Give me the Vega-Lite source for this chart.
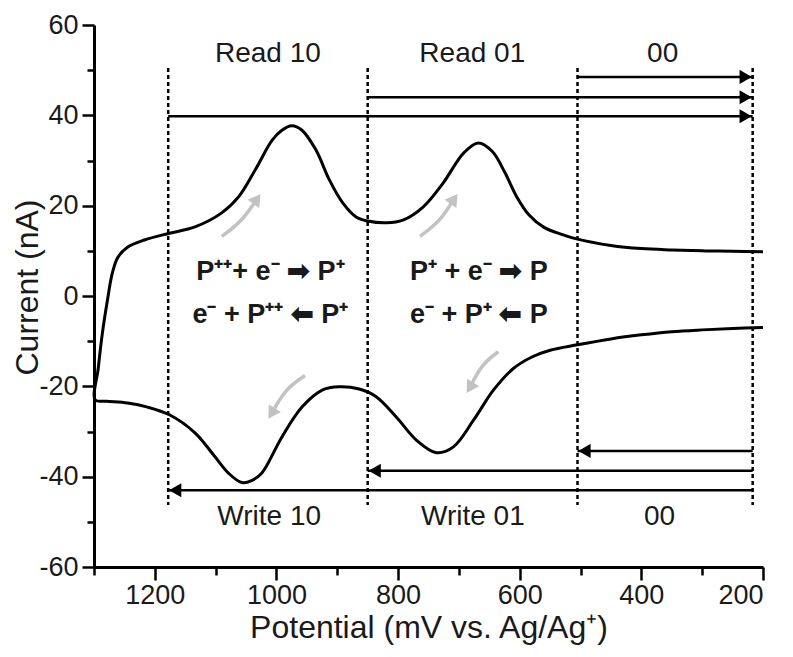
{
  "$schema": "https://vega.github.io/schema/vega-lite/v6.json",
  "width": 669,
  "height": 542,
  "autosize": {"type": "none"},
  "padding": {"left": 94, "top": 25, "right": 30, "bottom": 90},
  "background": "white",
  "config": {"view": {"stroke": null}, "font": "Liberation Sans"},
  "datasets": {
    "curve": [
      {"seq": 1, "E": 200, "I": 9.8}, {"seq": 2, "E": 250, "I": 9.9}, {"seq": 3, "E": 300, "I": 10.0},
      {"seq": 4, "E": 350, "I": 10.2}, {"seq": 5, "E": 400, "I": 10.5}, {"seq": 6, "E": 450, "I": 11.2},
      {"seq": 7, "E": 505, "I": 12.6}, {"seq": 8, "E": 530, "I": 13.6}, {"seq": 9, "E": 560, "I": 15.2},
      {"seq": 10, "E": 585, "I": 18}, {"seq": 11, "E": 605, "I": 22}, {"seq": 12, "E": 625, "I": 27.5},
      {"seq": 13, "E": 645, "I": 32}, {"seq": 14, "E": 668, "I": 33.9}, {"seq": 15, "E": 692, "I": 31.7},
      {"seq": 16, "E": 726, "I": 25}, {"seq": 17, "E": 759, "I": 19.7}, {"seq": 18, "E": 792, "I": 16.8},
      {"seq": 19, "E": 819, "I": 16.2}, {"seq": 20, "E": 850, "I": 16.6}, {"seq": 21, "E": 869, "I": 17.5},
      {"seq": 22, "E": 891, "I": 20.6}, {"seq": 23, "E": 913, "I": 25.7}, {"seq": 24, "E": 935, "I": 32.3},
      {"seq": 25, "E": 958, "I": 36.7}, {"seq": 26, "E": 975, "I": 37.7}, {"seq": 27, "E": 991, "I": 36.7},
      {"seq": 28, "E": 1007, "I": 34.5}, {"seq": 29, "E": 1035, "I": 27.9}, {"seq": 30, "E": 1062, "I": 22},
      {"seq": 31, "E": 1090, "I": 18.4}, {"seq": 32, "E": 1134, "I": 15.3}, {"seq": 33, "E": 1176, "I": 13.9},
      {"seq": 34, "E": 1217, "I": 12.4}, {"seq": 35, "E": 1245, "I": 10.8}, {"seq": 36, "E": 1261, "I": 8.5},
      {"seq": 37, "E": 1270, "I": 5}, {"seq": 38, "E": 1278, "I": -1}, {"seq": 39, "E": 1286, "I": -8},
      {"seq": 40, "E": 1293, "I": -16}, {"seq": 41, "E": 1298, "I": -23}, {"seq": 42, "E": 1280, "I": -23.3},
      {"seq": 43, "E": 1245, "I": -23.7}, {"seq": 44, "E": 1212, "I": -24.6}, {"seq": 45, "E": 1176, "I": -26.3},
      {"seq": 46, "E": 1134, "I": -30.3}, {"seq": 47, "E": 1101, "I": -35.6}, {"seq": 48, "E": 1079, "I": -39.2},
      {"seq": 49, "E": 1057, "I": -41.3}, {"seq": 50, "E": 1040, "I": -40.8}, {"seq": 51, "E": 1024, "I": -39.2},
      {"seq": 52, "E": 991, "I": -31.2}, {"seq": 53, "E": 958, "I": -24.6}, {"seq": 54, "E": 924, "I": -20.8},
      {"seq": 55, "E": 897, "I": -20.1}, {"seq": 56, "E": 864, "I": -20.6}, {"seq": 57, "E": 836, "I": -22.3},
      {"seq": 58, "E": 803, "I": -26.8}, {"seq": 59, "E": 770, "I": -31.9}, {"seq": 60, "E": 737, "I": -34.7},
      {"seq": 61, "E": 709, "I": -33.4}, {"seq": 62, "E": 676, "I": -27.5}, {"seq": 63, "E": 643, "I": -20.8},
      {"seq": 64, "E": 610, "I": -16}, {"seq": 65, "E": 580, "I": -13.5}, {"seq": 66, "E": 550, "I": -12},
      {"seq": 67, "E": 505, "I": -10.8}, {"seq": 68, "E": 450, "I": -9.5}, {"seq": 69, "E": 400, "I": -8.6},
      {"seq": 70, "E": 350, "I": -7.9}, {"seq": 71, "E": 300, "I": -7.5}, {"seq": 72, "E": 250, "I": -7.2},
      {"seq": 73, "E": 200, "I": -7}
    ],
    "dividers": [{"E": 1178}, {"E": 850}, {"E": 505}, {"E": 217}],
    "readArrows": [
      {"a": 505, "b": 217, "I": 48.5},
      {"a": 850, "b": 217, "I": 44},
      {"a": 1178, "b": 217, "I": 39.8}
    ],
    "writeArrows": [
      {"a": 217, "b": 505, "I": -34.3},
      {"a": 217, "b": 850, "I": -38.7},
      {"a": 217, "b": 1178, "I": -43}
    ],
    "regionLabels": [
      {"text": "Read 10", "E": 1014, "I": 53.6},
      {"text": "Read 01", "E": 678, "I": 53.6},
      {"text": "00", "E": 365, "I": 53.6},
      {"text": "Write 10", "E": 1012, "I": -49},
      {"text": "Write 01", "E": 677, "I": -49},
      {"text": "00", "E": 370, "I": -49}
    ],
    "equations": [
      {"text": "P⁺⁺+ e⁻ ➡ P⁺", "E": 1010, "I": 5.3},
      {"text": "e⁻ + P⁺⁺ ⬅ P⁺", "E": 1010, "I": -4.2},
      {"text": "P⁺ + e⁻ ➡ P", "E": 667, "I": 5.3},
      {"text": "e⁻ + P⁺ ⬅ P", "E": 667, "I": -4.2}
    ],
    "grayUp": [
      {"id": "A", "E": 1090, "I": 13.2}, {"id": "A", "E": 1057, "I": 16.5}, {"id": "A", "E": 1032, "I": 21.5},
      {"id": "B", "E": 764, "I": 13.2}, {"id": "B", "E": 731, "I": 16.5}, {"id": "B", "E": 708, "I": 21.5}
    ],
    "grayDown": [
      {"id": "C", "E": 953, "I": -17.6}, {"id": "C", "E": 985, "I": -20.5}, {"id": "C", "E": 1008, "I": -26},
      {"id": "D", "E": 635, "I": -12.3}, {"id": "D", "E": 663, "I": -15.2}, {"id": "D", "E": 682, "I": -20.3}
    ],
    "grayUpHeads": [{"E": 1032, "I": 21.5}, {"E": 708, "I": 21.5}],
    "grayDownHeads": [{"E": 1008, "I": -26}, {"E": 682, "I": -20.3}]
  },
  "layer": [
    {
      "data": {"name": "curve"},
      "mark": {"type": "point", "opacity": 0},
      "encoding": {
        "x": {"field": "E", "type": "quantitative",
              "scale": {"domain": [200, 1300], "reverse": true, "nice": false, "zero": false},
              "axis": {"orient": "bottom", "values": [1300, 1100, 900, 700, 500, 300], "labels": false, "domain": false, "grid": false, "title": null, "tickSize": 8, "tickWidth": 2.5, "tickColor": "black"}},
        "y": {"field": "I", "type": "quantitative",
              "scale": {"domain": [-60, 60], "nice": false, "zero": false},
              "axis": {"orient": "left", "values": [-50, -30, -10, 10, 30, 50], "labels": false, "domain": false, "grid": false, "title": null, "tickSize": 7, "tickWidth": 2.5, "tickColor": "black"}}
      }
    },
    {
      "data": {"name": "curve"},
      "mark": {"type": "line", "color": "black", "strokeWidth": 3, "interpolate": "catmull-rom", "strokeJoin": "round"},
      "encoding": {
        "x": {"field": "E", "type": "quantitative",
              "scale": {"domain": [200, 1300], "reverse": true, "nice": false, "zero": false},
              "axis": {"orient": "bottom", "values": [1200, 1000, 800, 600, 400, 200], "grid": false, "title": "Potential (mV vs. Ag/Ag⁺)",
                       "labelExpr": "datum.value + ''",
                       "domainColor": "black", "domainWidth": 3, "tickColor": "black", "tickWidth": 2.5, "tickSize": 13,
                       "labelFontSize": 27, "labelColor": "#1a1a1a", "labelPadding": 2, "labelFont": "Liberation Sans",
                       "titleFontSize": 32, "titleFontWeight": "normal", "titleColor": "#1a1a1a", "titlePadding": 4, "titleFont": "Liberation Sans"}},
        "y": {"field": "I", "type": "quantitative",
              "scale": {"domain": [-60, 60], "nice": false, "zero": false},
              "axis": {"orient": "left", "values": [-60, -40, -20, 0, 20, 40, 60], "grid": false, "title": "Current (nA)",
                       "labelExpr": "datum.value + ''",
                       "domainColor": "black", "domainWidth": 3, "tickColor": "black", "tickWidth": 2.5, "tickSize": 12,
                       "labelFontSize": 27, "labelColor": "#1a1a1a", "labelPadding": 4, "labelFont": "Liberation Sans",
                       "titleFontSize": 32, "titleFontWeight": "normal", "titleColor": "#1a1a1a", "titleX": -50, "titleY": 262, "titleFont": "Liberation Sans"}},
        "order": {"field": "seq", "type": "quantitative"}
      }
    },
    {
      "data": {"name": "dividers"},
      "mark": {"type": "rule", "color": "black", "strokeWidth": 2.5, "strokeDash": [4, 3]},
      "encoding": {
        "x": {"field": "E", "type": "quantitative", "axis": null},
        "y": {"datum": 50.5, "axis": null},
        "y2": {"datum": -46.3}
      }
    },
    {
      "data": {"name": "readArrows"},
      "mark": {"type": "rule", "color": "black", "strokeWidth": 2.5},
      "encoding": {
        "x": {"field": "a", "type": "quantitative", "axis": null},
        "x2": {"field": "b"},
        "y": {"field": "I", "type": "quantitative", "axis": null}
      }
    },
    {
      "data": {"name": "readArrows"},
      "mark": {"type": "point", "shape": "triangle-right", "filled": true, "color": "black", "opacity": 1, "size": 200, "xOffset": -7},
      "encoding": {
        "x": {"field": "b", "type": "quantitative", "axis": null},
        "y": {"field": "I", "type": "quantitative", "axis": null}
      }
    },
    {
      "data": {"name": "writeArrows"},
      "mark": {"type": "rule", "color": "black", "strokeWidth": 2.5},
      "encoding": {
        "x": {"field": "a", "type": "quantitative", "axis": null},
        "x2": {"field": "b"},
        "y": {"field": "I", "type": "quantitative", "axis": null}
      }
    },
    {
      "data": {"name": "writeArrows"},
      "mark": {"type": "point", "shape": "triangle-left", "filled": true, "color": "black", "opacity": 1, "size": 200, "xOffset": 7},
      "encoding": {
        "x": {"field": "b", "type": "quantitative", "axis": null},
        "y": {"field": "I", "type": "quantitative", "axis": null}
      }
    },
    {
      "data": {"name": "grayUp"},
      "mark": {"type": "line", "color": "#c2c2c2", "strokeWidth": 3.5, "interpolate": "basis"},
      "encoding": {
        "x": {"field": "E", "type": "quantitative", "axis": null},
        "y": {"field": "I", "type": "quantitative", "axis": null},
        "detail": {"field": "id"}
      }
    },
    {
      "data": {"name": "grayDown"},
      "mark": {"type": "line", "color": "#c2c2c2", "strokeWidth": 3.5, "interpolate": "basis"},
      "encoding": {
        "x": {"field": "E", "type": "quantitative", "axis": null},
        "y": {"field": "I", "type": "quantitative", "axis": null},
        "detail": {"field": "id"}
      }
    },
    {
      "data": {"name": "grayUpHeads"},
      "mark": {"type": "point", "shape": "triangle-up", "filled": true, "color": "#c2c2c2", "opacity": 1, "size": 200, "angle": 35},
      "encoding": {
        "x": {"field": "E", "type": "quantitative", "axis": null},
        "y": {"field": "I", "type": "quantitative", "axis": null}
      }
    },
    {
      "data": {"name": "grayDownHeads"},
      "mark": {"type": "point", "shape": "triangle-up", "filled": true, "color": "#c2c2c2", "opacity": 1, "size": 200, "angle": 212},
      "encoding": {
        "x": {"field": "E", "type": "quantitative", "axis": null},
        "y": {"field": "I", "type": "quantitative", "axis": null}
      }
    },
    {
      "data": {"name": "regionLabels"},
      "mark": {"type": "text", "fontSize": 28, "color": "#1a1a1a", "font": "Liberation Sans", "baseline": "middle", "align": "center"},
      "encoding": {
        "x": {"field": "E", "type": "quantitative", "axis": null},
        "y": {"field": "I", "type": "quantitative", "axis": null},
        "text": {"field": "text"}
      }
    },
    {
      "data": {"name": "equations"},
      "mark": {"type": "text", "fontSize": 27, "fontWeight": "bold", "color": "#1a1a1a", "font": "Liberation Sans", "baseline": "middle", "align": "center"},
      "encoding": {
        "x": {"field": "E", "type": "quantitative", "axis": null},
        "y": {"field": "I", "type": "quantitative", "axis": null},
        "text": {"field": "text"}
      }
    }
  ],
  "resolve": {"axis": {"x": "independent", "y": "independent"}}
}
